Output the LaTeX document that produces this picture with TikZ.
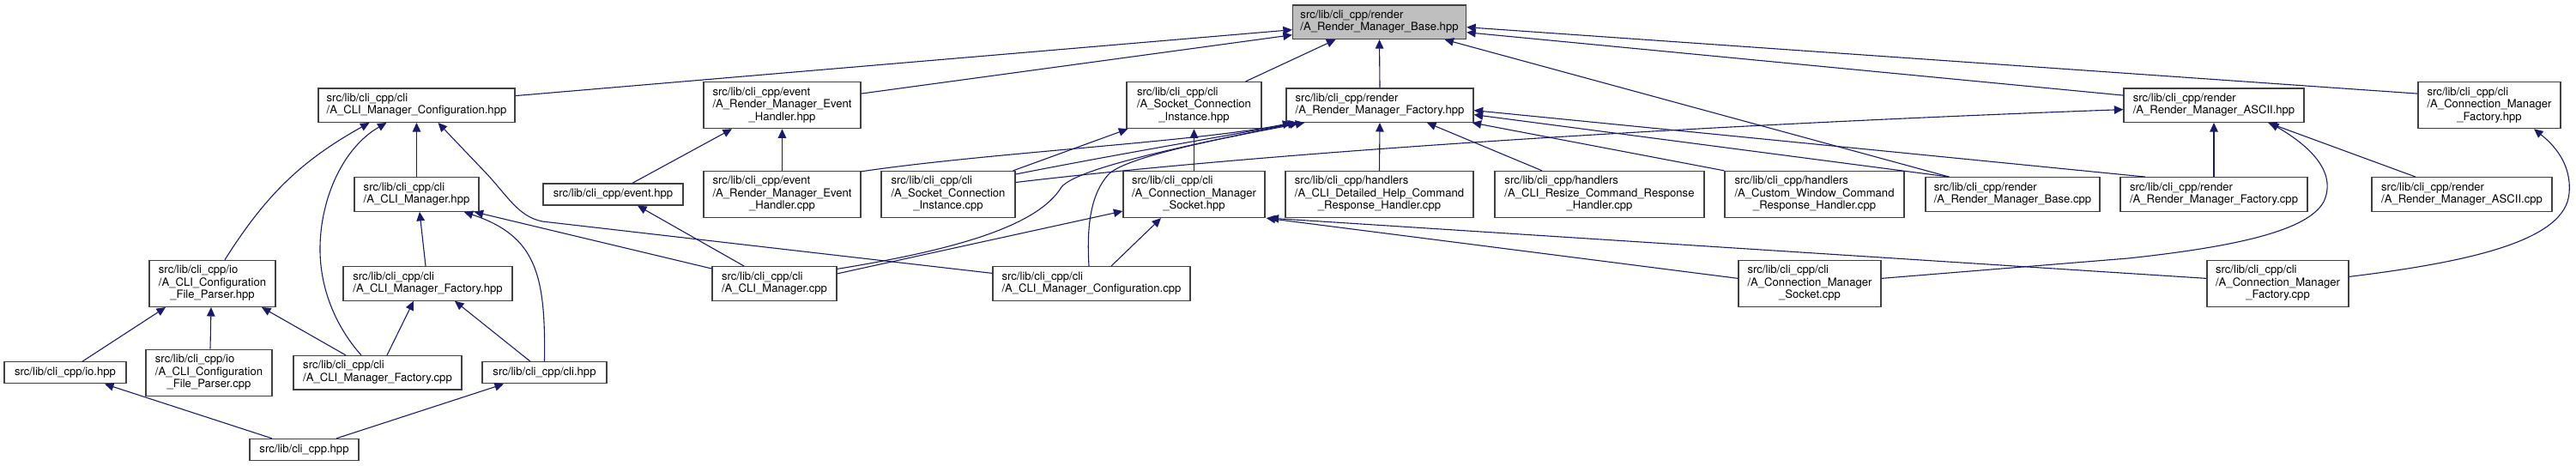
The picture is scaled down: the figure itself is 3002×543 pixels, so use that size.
\documentclass[tikz,border=0pt]{standalone}
\usepackage{fontspec}
\setmainfont{TeX Gyre Heros}
\usepackage{tikz}
\usetikzlibrary{arrows.meta}
\definecolor{edgeblue}{RGB}{25,25,112}
\definecolor{boxline}{RGB}{64,64,64}
\newcommand{\ftwo}[2]{\begin{tabular}{@{}l@{}}#1\\#2\end{tabular}}
\newcommand{\fthree}[3]{\begin{tabular}{@{}l@{}}#1\\#2\\\multicolumn{1}{@{}c@{}}{#3}\end{tabular}}
\tikzset{
  g px/.style={x=1pt, y=-1pt, font=\fontsize{13.1}{14.5}\selectfont},
  g box/.style={draw=boxline, line width=1.3pt, fill=white, inner sep=0pt, align=center},
  g one/.style={g box, minimum height=25pt},
  g two/.style={g box, minimum height=39.5pt},
  g three/.style={g box, minimum height=54pt},
  g root/.style={g two, fill=black!25},
  g arr/.style={draw=edgeblue, line width=1.1pt, -{Triangle[length=10.5pt,width=9.5pt]}},
}
\begin{document}
\begin{tikzpicture}[g px]
\useasboundingbox (0,0) rectangle (3002,543);
\node[g root, minimum width=202pt] (rmb) at (1607.5,25.7) {\ftwo{src/lib/cli\_cpp/render}{/A\_Render\_Manager\_Base.hpp}};
\node[g two, minimum width=229pt] (cmch) at (485.5,122.6) {\ftwo{src/lib/cli\_cpp/cli}{/A\_CLI\_Manager\_Configuration.hpp}};
\node[g three, minimum width=183pt] (ehh) at (911.5,122.6) {\fthree{src/lib/cli\_cpp/event}{/A\_Render\_Manager\_Event}{\_Handler.hpp}};
\node[g three, minimum width=157pt] (scih) at (1391.5,122.6) {\fthree{src/lib/cli\_cpp/cli}{/A\_Socket\_Connection}{\_Instance.hpp}};
\node[g two, minimum width=218pt] (rmfh) at (1608,122.6) {\ftwo{src/lib/cli\_cpp/render}{/A\_Render\_Manager\_Factory.hpp}};
\node[g two, minimum width=210pt] (rmah) at (2580,122.6) {\ftwo{src/lib/cli\_cpp/render}{/A\_Render\_Manager\_ASCII.hpp}};
\node[g three, minimum width=166pt] (cmfh) at (2901,122.6) {\fthree{src/lib/cli\_cpp/cli}{/A\_Connection\_Manager}{\_Factory.hpp}};
\node[g two, minimum width=145pt] (cmh) at (485.5,226.5) {\ftwo{src/lib/cli\_cpp/cli}{/A\_CLI\_Manager.hpp}};
\node[g one, minimum width=163pt] (evh) at (714.5,226.5) {src/lib/cli\_cpp/event.hpp};
\node[g three, minimum width=183pt] (ehc) at (911.5,226.5) {\fthree{src/lib/cli\_cpp/event}{/A\_Render\_Manager\_Event}{\_Handler.cpp}};
\node[g three, minimum width=156pt] (scic) at (1105,226.5) {\fthree{src/lib/cli\_cpp/cli}{/A\_Socket\_Connection}{\_Instance.cpp}};
\node[g three, minimum width=165pt] (cmsh) at (1391.5,226.5) {\fthree{src/lib/cli\_cpp/cli}{/A\_Connection\_Manager}{\_Socket.hpp}};
\node[g three, minimum width=219pt] (dhc) at (1607.5,226.5) {\fthree{src/lib/cli\_cpp/handlers}{/A\_CLI\_Detailed\_Help\_Command}{\_Response\_Handler.cpp}};
\node[g three, minimum width=244pt] (rsc) at (1864,226.5) {\fthree{src/lib/cli\_cpp/handlers}{/A\_CLI\_Resize\_Command\_Response}{\_Handler.cpp}};
\node[g three, minimum width=209pt] (cwc) at (2114.5,226.5) {\fthree{src/lib/cli\_cpp/handlers}{/A\_Custom\_Window\_Command}{\_Response\_Handler.cpp}};
\node[g two, minimum width=203pt] (rbc) at (2345.5,226.5) {\ftwo{src/lib/cli\_cpp/render}{/A\_Render\_Manager\_Base.cpp}};
\node[g two, minimum width=218pt] (rmfc) at (2580,226.5) {\ftwo{src/lib/cli\_cpp/render}{/A\_Render\_Manager\_Factory.cpp}};
\node[g two, minimum width=210pt] (rmac) at (2869,226.5) {\ftwo{src/lib/cli\_cpp/render}{/A\_Render\_Manager\_ASCII.cpp}};
\node[g three, minimum width=147pt] (fph) at (247.5,330.4) {\fthree{src/lib/cli\_cpp/io}{/A\_CLI\_Configuration}{\_File\_Parser.hpp}};
\node[g two, minimum width=197pt] (climfh) at (498.5,330.4) {\ftwo{src/lib/cli\_cpp/cli}{/A\_CLI\_Manager\_Factory.hpp}};
\node[g two, minimum width=145pt] (cmcpp) at (902.5,330.4) {\ftwo{src/lib/cli\_cpp/cli}{/A\_CLI\_Manager.cpp}};
\node[g two, minimum width=230pt] (cmcc) at (1272,330.4) {\ftwo{src/lib/cli\_cpp/cli}{/A\_CLI\_Manager\_Configuration.cpp}};
\node[g three, minimum width=166pt] (cmsockc) at (2109,330.4) {\fthree{src/lib/cli\_cpp/cli}{/A\_Connection\_Manager}{\_Socket.cpp}};
\node[g three, minimum width=165pt] (cmfc) at (2654.5,330.4) {\fthree{src/lib/cli\_cpp/cli}{/A\_Connection\_Manager}{\_Factory.cpp}};
\node[g one, minimum width=142pt] (ioh) at (76,434.3) {src/lib/cli\_cpp/io.hpp};
\node[g three, minimum width=147pt] (fpc) at (243.5,434.3) {\fthree{src/lib/cli\_cpp/io}{/A\_CLI\_Configuration}{\_File\_Parser.cpp}};
\node[g two, minimum width=196pt] (climfc) at (440,434.3) {\ftwo{src/lib/cli\_cpp/cli}{/A\_CLI\_Manager\_Factory.cpp}};
\node[g one, minimum width=145pt] (clih) at (634.5,434.3) {src/lib/cli\_cpp/cli.hpp};
\node[g one, minimum width=127pt] (clicpp) at (354.5,524) {src/lib/cli\_cpp.hpp};
\draw[g arr] ([yshift=11pt]cmch.east) -- ([yshift=-9pt]rmb.west); \draw[g arr] ([yshift=13.5pt]ehh.east) -- ([yshift=-15pt]rmb.west);
\draw[g arr] ([xshift=60pt]scih.north) -- ([xshift=-51pt]rmb.south); \draw[g arr] (rmfh.north) -- (rmb.south);
\draw[g arr] ([xshift=-74pt]rbc.north) -- ([xshift=76pt]rmb.south);
\draw[g arr] ([yshift=11.5pt]rmah.west) -- ([yshift=-12pt]rmb.east); \draw[g arr] ([yshift=13.5pt]cmfh.west) -- ([yshift=-6pt]rmb.east);
\draw[g arr] ([xshift=14.5pt]fph.north) .. controls +(48,-76) and +(-79,44) .. ([xshift=-55pt]cmch.south);
\draw[g arr] ([xshift=-19pt]climfc.north) .. controls (395,385) and (372,340) .. (373,287) .. controls (374,230) and (400,172) .. ([xshift=-35pt]cmch.south);
\draw[g arr] (cmh.north) -- (cmch.south);
\draw[g arr] ([yshift=12pt]cmcc.west) -- (632,258) .. controls (602,252) and (590,225) .. (560,195) -- ([xshift=25pt]cmch.south);
\draw[g arr] ([xshift=-2.5pt]climfh.north) -- ([xshift=3.5pt]cmh.south);
\draw[g arr] (clih.north) .. controls (636,320) and (625,275) .. ([xshift=-18pt]cmh.south east);
\draw[g arr] ([yshift=-3pt]cmcpp.north west) -- ([xshift=-6pt]cmh.south east);
\draw[g arr] ([xshift=11pt]climfc.north) -- ([xshift=-16.5pt]climfh.south); \draw[g arr] ([xshift=-16.5pt]clih.north) -- ([xshift=31.5pt]climfh.south);
\draw[g arr] ([xshift=20pt]ioh.north) -- ([xshift=-54.5pt]fph.south); \draw[g arr] ([xshift=1.5pt]fpc.north) -- ([xshift=-1.5pt]fph.south);
\draw[g arr] ([xshift=-37pt]climfc.north) -- ([xshift=57.5pt]fph.south);
\draw[g arr] ([xshift=-37.5pt]clicpp.north) -- ([xshift=46pt]ioh.south); \draw[g arr] ([xshift=37.5pt]clicpp.north) -- ([xshift=-47.5pt]clih.south);
\draw[g arr] ([xshift=22.5pt]evh.north) -- ([xshift=-58.5pt]ehh.south); \draw[g arr] (ehc.north) -- (ehh.south);
\draw[g arr] ([xshift=-35.5pt]cmcpp.north) -- ([xshift=28.5pt]evh.south);
\draw[g arr] ([xshift=-3pt]scic.north east) -- ([xshift=2pt]scih.south west); \draw[g arr] (cmsh.north) -- (scih.south);
\draw[g arr] ([xshift=23pt]cmcc.north) -- ([xshift=-38.5pt]cmsh.south);
\draw[g arr] ([yshift=11.5pt]cmcpp.east) -- ([yshift=-19.5pt]cmsh.west);
\draw[g arr] ([yshift=6pt]cmsockc.west) -- ([xshift=1pt]cmsh.south east); \draw[g arr] ([yshift=6pt]cmfc.west) -- ([xshift=5pt]cmsh.south east);
\draw[g arr] ([yshift=-1pt]ehc.north east) .. controls (1150,178) and (1400,165) .. ([xshift=7pt]rmfh.south west);
\draw[g arr] ([yshift=23.5pt]scic.east) .. controls (1300,180) and (1420,160) .. ([xshift=13pt]rmfh.south west);
\draw[g arr] ([yshift=17pt]cmcpp.east) .. controls (1120,290) and (1210,262) .. (1237,218) .. controls (1255,196) and (1380,170) .. ([xshift=15pt]rmfh.south west);
\draw[g arr] ([xshift=-3pt]cmcc.north) .. controls (1266,260) and (1272,225) .. (1292,203) .. controls (1310,185) and (1400,165) .. ([xshift=22pt]rmfh.south west);
\draw[g arr] (dhc.north) -- (rmfh.south); \draw[g arr] ([xshift=-67pt]rsc.north) -- ([xshift=55pt]rmfh.south);
\draw[g arr] (cwc.north west) -- ([xshift=-2pt]rmfh.south east);
\draw[g arr] ([xshift=-74pt]rbc.north) -- ([yshift=-11pt]rmfh.east); \draw[g arr] ([xshift=-80pt]rmfc.north) -- ([yshift=-6pt]rmfh.east);
\draw[g arr] (rmfc.north) -- (rmah.south); \draw[g arr] ([xshift=-54pt]rmac.north) -- ([xshift=63pt]rmah.south);
\draw[g arr] ([yshift=6pt]cmsockc.east) -- (2480,301) .. controls (2610,287) and (2690,268) .. (2708,235) .. controls (2722,205) and (2700,175) .. ([xshift=65pt]rmah.south);
\draw[g arr] ([yshift=14pt]scic.east) .. controls (1500,175) and (2000,145) .. ([yshift=-5pt]rmah.west);
\draw[g arr] ([yshift=8pt]cmfc.east) .. controls (2880,305) and (2990,280) .. (2994,225) .. controls (2997,190) and (2975,168) .. ([xshift=52pt]cmfh.south);
\end{tikzpicture}
\end{document}
